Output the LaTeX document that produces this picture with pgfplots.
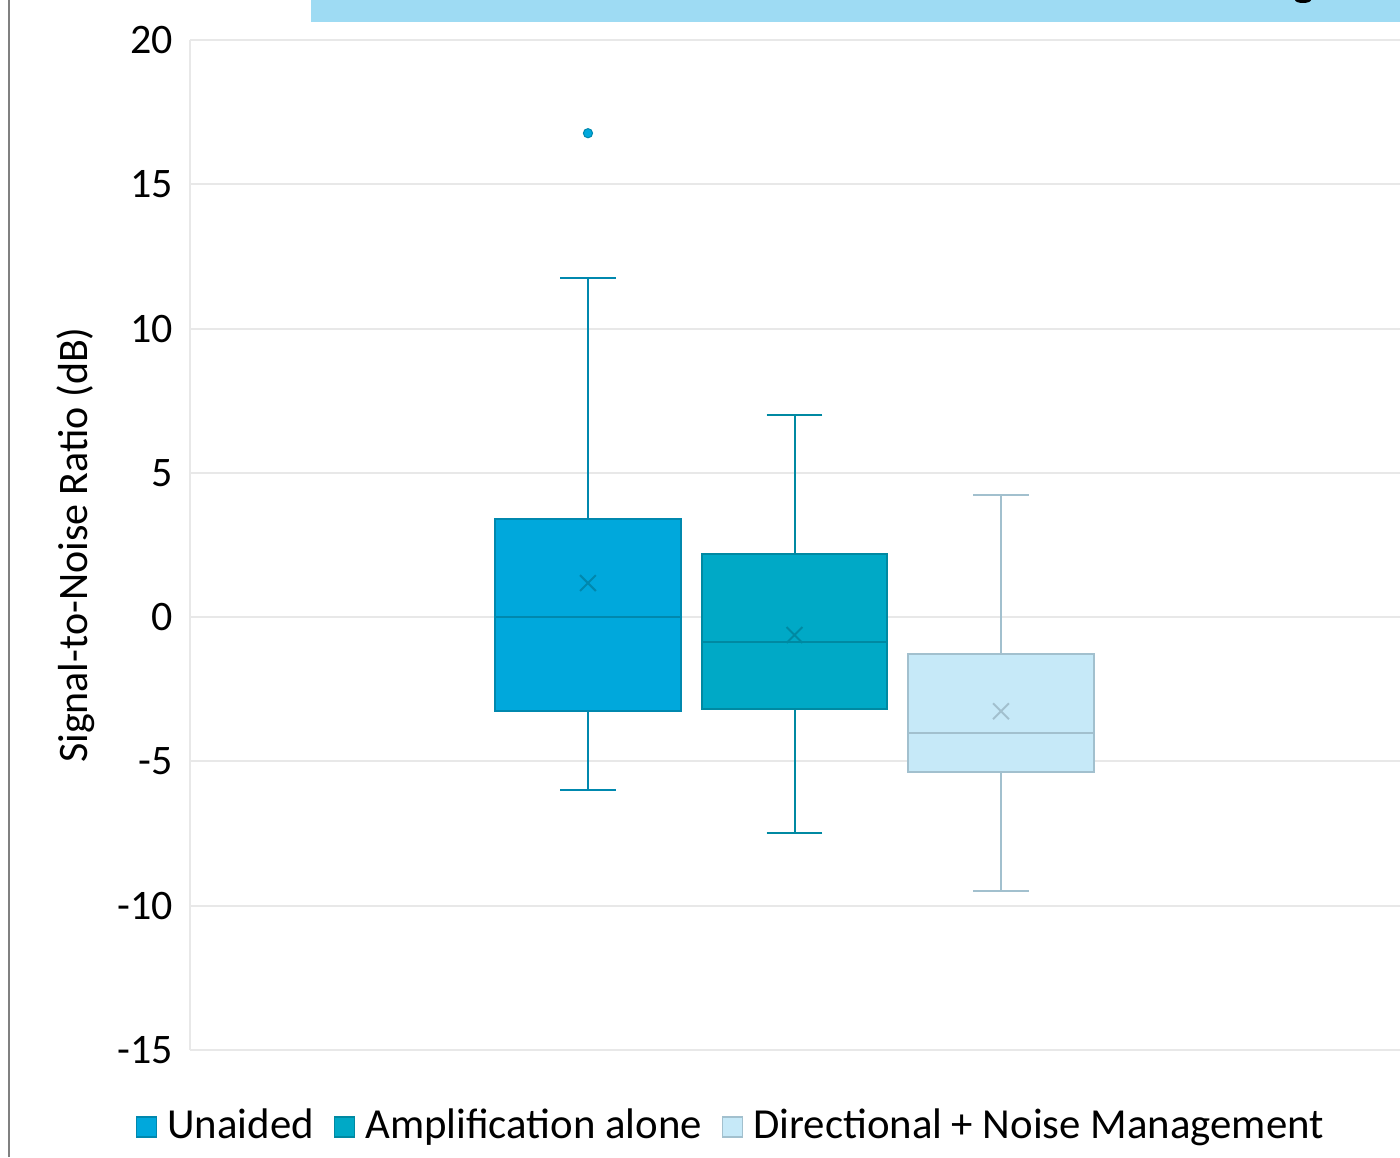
\documentclass[border=0pt]{standalone}
\usepackage{fontspec}
\setmainfont{Carlito}
\usepackage{pgfplots}
\pgfplotsset{compat=1.18}
\usepgfplotslibrary{statistics}

\definecolor{unaidF}{HTML}{00A8DC}
\definecolor{unaidD}{HTML}{0088AE}
\definecolor{amplF}{HTML}{00A9C6}
\definecolor{amplD}{HTML}{0089A2}
\definecolor{dirF}{HTML}{C6E9F8}
\definecolor{dirD}{HTML}{A2C0CE}
\definecolor{gridc}{HTML}{E8E8E8}
\definecolor{banner}{HTML}{9EDBF3}

\begin{document}
\fontsize{21}{25}\selectfont
\begin{tikzpicture}
% page: 1400x1157 px at 0.5pt per px
\useasboundingbox (0,0) rectangle (700pt,578.5pt);
\fill[banner] (155.5pt,567.5pt) rectangle (700pt,578.5pt);
\fill[black] (651.5pt,578.5pt) ellipse (4pt and 1.5pt);
\draw[gray, line width=1pt] (4.5pt,0) -- (4.5pt,578.5pt);

\begin{axis}[
    at={(95pt,53.5pt)}, anchor=south west,
    scale only axis,
    width=605pt, height=505pt,
    xmin=-0.927, xmax=4.932,
    ymin=-15, ymax=20,
    ytick={-15,-10,...,20},
    xtick=\empty,
    ymajorgrids,
    grid style={gridc, line width=1pt},
    axis line style={gridc, line width=1pt},
    axis x line=none,
    axis y line*=left,
    y axis line style={-},
    major tick length=0pt,
    yticklabel style={font=\fontsize{21}{25}\selectfont, xshift=-1.5pt},
    /pgf/number format/assume math mode=true,
    ylabel={Signal-to-Noise Ratio (dB)},
    ylabel style={font=\fontsize{21}{25}\selectfont},
    ylabel shift=-3pt,
    clip=false,
    legend columns=3,
    legend style={
        at={(0.448,-0.0762)}, anchor=center,
        draw=none, fill=none,
        font=\fontsize{21.4}{25}\selectfont,
        /tikz/every odd column/.append style={column sep=3pt},
        /tikz/every even column/.append style={column sep=8pt},
    },
    legend image code/.code={\draw[#1, line width=0.6pt] (0pt,-5pt) rectangle (10pt,5pt);},
    boxplot/draw direction=y,
    boxplot/box extend=0.9,
    boxplot/whisker extend=0.27,
]
\addlegendimage{fill=unaidF, draw=unaidD}
\addlegendentry{Unaided}
\addlegendimage{fill=amplF, draw=amplD}
\addlegendentry{Amplification alone}
\addlegendimage{fill=dirF, draw=dirD}
\addlegendentry{Directional + Noise Management}

\addplot[forget plot, draw=unaidD, fill=unaidF, line width=1pt,
    mark=*, mark size=2.3pt, mark options={fill=unaidF, draw=unaidD, line width=0.5pt},
    boxplot/every average/.style={/tikz/mark=x, /tikz/mark size=5.6pt, /tikz/mark options={draw=unaidD, line width=0.6pt}},
    boxplot prepared={draw position=1,
        lower whisker=-6.0, lower quartile=-3.26, median=0.0,
        upper quartile=3.40, upper whisker=11.75, average=1.18}]
    table[row sep=\\, y index=0] {16.77\\};

\addplot[forget plot, draw=amplD, fill=amplF, line width=1pt,
    boxplot/every average/.style={/tikz/mark=x, /tikz/mark size=5.6pt, /tikz/mark options={draw=amplD, line width=0.6pt}},
    boxplot prepared={draw position=2,
        lower whisker=-7.48, lower quartile=-3.19, median=-0.87,
        upper quartile=2.18, upper whisker=7.0, average=-0.62}]
    coordinates {};

\addplot[forget plot, draw=dirD, fill=dirF, line width=1pt,
    boxplot/every average/.style={/tikz/mark=x, /tikz/mark size=5.6pt, /tikz/mark options={draw=dirD, line width=0.6pt}},
    boxplot prepared={draw position=3,
        lower whisker=-9.49, lower quartile=-5.37, median=-4.02,
        upper quartile=-1.28, upper whisker=4.23, average=-3.26}]
    coordinates {};
\end{axis}
\end{tikzpicture}
\end{document}
